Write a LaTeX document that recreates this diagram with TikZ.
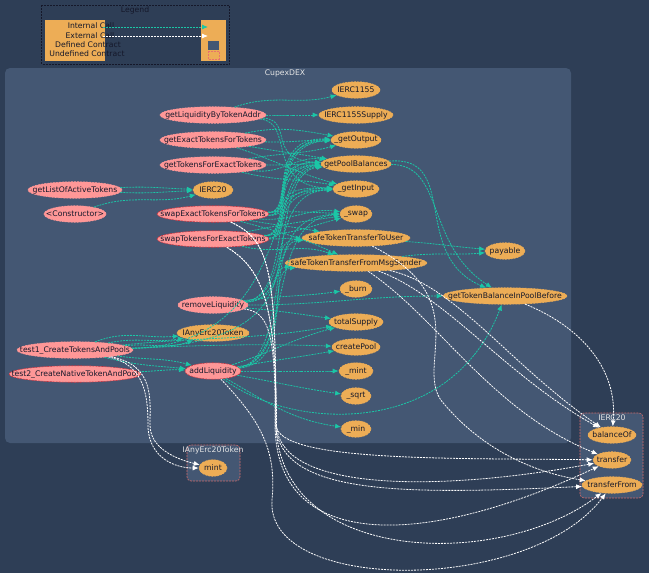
\documentclass[tikz,border=0pt]{standalone}
\usepackage{fontspec}
\setmainfont{DejaVu Sans}
\usetikzlibrary{arrows.meta,shapes.geometric}
\definecolor{bgdark}{HTML}{2E3E56}
\definecolor{clusterblue}{HTML}{445773}
\definecolor{nodeorange}{HTML}{EDAD56}
\definecolor{nodepink}{HTML}{FF9797}
\definecolor{borderred}{HTML}{E8726D}
\definecolor{borderdeep}{HTML}{C8323F}
\definecolor{callteal}{HTML}{1BC6A6}
\definecolor{labeldark}{HTML}{15182A}
\newcommand{\nlab}[1]{\makebox[0pt]{#1}}
\begin{document}
\begin{tikzpicture}[
            x=1pt,y=-1pt,
            font=\fontsize{7.7}{9.5}\selectfont,
            fnode/.style={ellipse,inner sep=0pt,minimum height=16.5,text=labeldark,dash pattern=on 2pt off 1pt,line width=0.6pt},
            fpink/.style={fnode,fill=nodepink,draw=nodepink},
            fred/.style={fnode,fill=nodepink,draw=borderdeep},
            forange/.style={fnode,fill=nodeorange,draw=nodeorange},
            icall/.style={draw=callteal,dash pattern=on 2pt off 1pt,line width=0.8pt,-{Latex[length=6pt,width=5pt]}},
            ecall/.style={draw=white,dash pattern=on 2pt off 1pt,line width=0.8pt,-{Latex[length=6pt,width=5pt]}},
            clustertext/.style={text=white!90!black},
            smallcluster/.style={draw=borderred!85!bgdark,dash pattern=on 2pt off 1pt,fill=clusterblue,rounded corners=4pt,line width=0.6pt}
          ]
          \useasboundingbox (0,0) rectangle (649,573);
          \clip (0,0) rectangle (649,573);
          \fill[bgdark] (0,0) rectangle (649,573);

          % legend
          \draw[dash pattern=on 2pt off 1pt,line width=0.5pt,draw=labeldark] (41.5,5) rectangle (229,64);
          \node[text=labeldark] (legendtitle) at (135,10.5) {Legend};
          \fill[nodeorange] (45,20) rectangle (105,61);
          \fill[nodeorange] (201,20) rectangle (226,61);
          \fill[clusterblue] (208,41) rectangle (219,50);
          \draw[borderred,dash pattern=on 2pt off 1pt,line width=0.5pt] (208,51) rectangle (219,59);
          \node[text=labeldark] (legint) at (91,26) {Internal Call};
          \node[text=labeldark] (legext) at (90,35.5) {External Call};
          \node[text=labeldark] (legdef) at (88,44.5) {Defined Contract};
          \node[text=labeldark] (legund) at (87,53.5) {Undefined Contract};
          \coordinate (legintA) at (103,27);
          \coordinate (legintB) at (208,27);
          \coordinate (legextA) at (103,36);
          \coordinate (legextB) at (208,36);
          \draw[icall] (legintA) -- (legintB);
          \draw[ecall] (legextA) -- (legextB);

          % clusters
          \fill[clusterblue,rounded corners=5pt] (5,68) rectangle (571,443);
          \node[clustertext] (cupex) at (285,73) {CupexDEX};
          \draw[smallcluster] (187,445) rectangle (240,481);
          \node[clustertext] (anytitle) at (213,450) {IAnyErc20Token};
          \draw[smallcluster] (580,413) rectangle (643,498);
          \node[clustertext] (ercttitle) at (612,418) {IERC20};

          % left column
          \node[fpink,minimum width=94] (getList) at (75,190) {\nlab{getListOfActiveTokens}};
          \node[fpink,minimum width=62] (ctor) at (75,214) {\nlab{<Constructor>}};
          \node[fpink,minimum width=116] (testOne) at (75,350) {\nlab{test1\_CreateTokensAndPools}};
          \node[fred,minimum width=132] (testTwo) at (75,374) {\nlab{test2\_CreateNativeTokenAndPool}};

          % middle column
          \node[fpink,minimum width=106] (getLiq) at (213,115) {\nlab{getLiquidityByTokenAddr}};
          \node[fpink,minimum width=106] (getExact) at (213,140) {\nlab{getExactTokensForTokens}};
          \node[fpink,minimum width=106] (getTokens) at (213,165) {\nlab{getTokensForExactTokens}};
          \node[forange,minimum width=40] (ierc) at (213,190) {\nlab{IERC20}};
          \node[fred,minimum width=112] (swapExact) at (213,214) {\nlab{swapExactTokensForTokens}};
          \node[fred,minimum width=112] (swapTokens) at (213,239) {\nlab{swapTokensForExactTokens}};
          \node[fpink,minimum width=70] (removeLiq) at (213,305) {\nlab{removeLiquidity}};
          \node[forange,minimum width=72] (anyToken) at (213,333) {\nlab{IAnyErc20Token}};
          \node[fred,minimum width=56] (addLiq) at (213,371) {\nlab{addLiquidity}};
          \node[forange,minimum width=28] (mint) at (213,468) {\nlab{mint}};

          % right column
          \node[forange,minimum width=48] (ercA) at (356,90) {\nlab{IERC1155}};
          \node[forange,minimum width=74] (ercB) at (356,115) {\nlab{IERC1155Supply}};
          \node[forange,minimum width=50] (getOut) at (356,140) {\nlab{\_getOutput}};
          \node[forange,minimum width=70] (getPool) at (356,164) {\nlab{getPoolBalances}};
          \node[forange,minimum width=46] (getIn) at (356,189) {\nlab{\_getInput}};
          \node[forange,minimum width=32] (swap) at (356,214) {\nlab{\_swap}};
          \node[forange,minimum width=108] (safeUser) at (356,238) {\nlab{safeTokenTransferToUser}};
          \node[forange,minimum width=142] (safeFrom) at (356,263) {\nlab{safeTokenTransferFromMsgSender}};
          \node[forange,minimum width=32] (burn) at (356,289) {\nlab{\_burn}};
          \node[forange,minimum width=54] (total) at (356,322) {\nlab{totalSupply}};
          \node[forange,minimum width=48] (create) at (356,347) {\nlab{createPool}};
          \node[forange,minimum width=34] (mintIn) at (356,371) {\nlab{\_mint}};
          \node[forange,minimum width=30] (sqrtIn) at (356,396) {\nlab{\_sqrt}};
          \node[forange,minimum width=30] (minIn) at (356,429) {\nlab{\_min}};

          % far right
          \node[forange,minimum width=40] (payable) at (505,251) {\nlab{payable}};
          \node[forange,minimum width=124] (getBal) at (505,296) {\nlab{getTokenBalanceInPoolBefore}};
          \node[forange,minimum width=48] (balOf) at (612,435) {\nlab{balanceOf}};
          \node[forange,minimum width=38] (transfer) at (612,460) {\nlab{transfer}};
          \node[forange,minimum width=60] (transFrom) at (612,485) {\nlab{transferFrom}};

          % internal calls, nearly flat
          \foreach \a/\b/\o/\i in {
            getLiq/ercA/20/195, getLiq/ercB/0/180,
            getList/ierc/3/178, getList/ierc/-3/182, ctor/ierc/20/195,
            getExact/getOut/12/170, getExact/getOut/-2/180, getExact/getPool/-10/170, getExact/getIn/-18/165,
            getTokens/getOut/10/195, getTokens/getPool/0/180, getTokens/getPool/-8/172, getTokens/getIn/-14/170,
            swapExact/swap/2/178, swapExact/swap/-6/172, swapExact/safeUser/-10/170, swapExact/safeFrom/-15/155,
            swapTokens/swap/12/188, swapTokens/swap/4/195, swapTokens/safeUser/0/180, swapTokens/safeFrom/-14/160,
            removeLiq/burn/8/188, removeLiq/total/-5/172, removeLiq/getBal/0/180,
            testOne/anyToken/22/185, testOne/anyToken/12/190, testOne/anyToken/5/200,
            testOne/addLiq/-8/165, testOne/addLiq/-14/175, testTwo/addLiq/2/178,
            testOne/total/6/190, testOne/create/2/178,
            addLiq/total/18/195, addLiq/create/10/190,
            addLiq/mintIn/0/180, addLiq/sqrtIn/-10/172, addLiq/minIn/-30/172, safeUser/payable/-4/175,
            safeFrom/payable/8/185}
          {
            \draw[icall] (\a) to[out=\o,in=\i] (\b);
          }
          % internal calls, through the bundle
          \foreach \a/\b/\ya/\yb in {
            getLiq/getPool/120/160, getLiq/getIn/122/186,
            swapExact/getOut/212/137, swapExact/getOut/216/142, swapExact/getPool/212/161, swapExact/getPool/216/166,
            swapExact/getIn/212/186, swapExact/getIn/216/191,
            swapTokens/getOut/234/139, swapTokens/getOut/238/143, swapTokens/getPool/234/160, swapTokens/getPool/238/167,
            swapTokens/getIn/234/187, swapTokens/getIn/238/192,
            removeLiq/getPool/296/168, removeLiq/safeUser/298/240, removeLiq/getIn/296/192, removeLiq/swap/298/216,
            testOne/getPool/344/170, testOne/safeFrom/344/268,
            addLiq/getPool/360/172, addLiq/safeFrom/362/270, addLiq/swap/360/218, addLiq/safeUser/360/242}
          {
            \draw[icall] (\a) .. controls (295,\ya) and (265,\yb) .. (\b);
          }
          \draw[icall] (addLiq) .. controls (290,430) and (450,440) .. (getBal);
          \draw[icall] (getPool) .. controls (445,165) and (425,245) .. (getBal);
          \draw[icall] (getPool) .. controls (460,155) and (410,255) .. (getBal);

          % external calls
          \draw[ecall] (getBal) to[out=-22,in=85] (balOf);
          \draw[ecall] (safeFrom) .. controls (455,285) and (510,365) .. (balOf);
          \draw[ecall] (safeFrom) .. controls (445,295) and (505,375) .. (balOf);
          \draw[ecall] (safeFrom) .. controls (440,320) and (490,410) .. (transfer);
          \draw[ecall] (safeUser) .. controls (480,300) and (410,370) .. (445,405) .. controls (475,440) and (520,470) .. (transFrom);
          \draw[ecall] (swapExact) .. controls (270,240) and (276,270) .. (276,425) .. controls (278,462) and (450,458) .. (transfer);
          \draw[ecall] (swapExact) .. controls (270,240) and (276,270) .. (275.5,425) .. controls (280,495) and (400,495) .. (transFrom);
          \draw[ecall] (swapTokens) .. controls (265,270) and (276,310) .. (276.5,425) .. controls (280,495) and (450,490) .. (transfer);
          \draw[ecall] (swapTokens) .. controls (265,270) and (276,310) .. (276,425) .. controls (280,565) and (500,570) .. (transFrom);
          \draw[ecall] (removeLiq) .. controls (268,312) and (276,330) .. (275,425) .. controls (276,550) and (420,550) .. (transfer);
          \draw[ecall] (addLiq) .. controls (260,420) and (277,450) .. (272,500) .. controls (265,594) and (530,594) .. (transFrom);
          \draw[ecall] (testOne) .. controls (155,365) and (150,400) .. (150,425) .. controls (150,450) and (180,460) .. (mint);
          \draw[ecall] (testOne) .. controls (147,365) and (148,400) .. (148,428) .. controls (150,458) and (175,468) .. (mint);
        \end{tikzpicture}
\end{document}
